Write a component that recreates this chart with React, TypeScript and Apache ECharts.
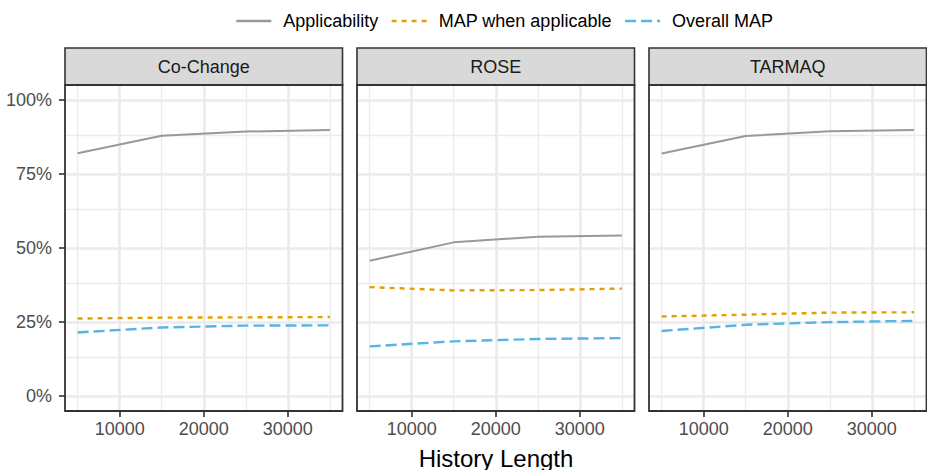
import React, { useEffect, useRef } from "react";
import * as echarts from "echarts";

const historyLengths = [5000, 15000, 25000, 35000];
const panelNames = ["Co-Change", "ROSE", "TARMAQ"];
const seriesNames = ["Applicability", "MAP when applicable", "Overall MAP"];

const coChangeApplicability = [0.82, 0.879, 0.893, 0.898];
const coChangeMapWhenApplicable = [0.262, 0.265, 0.266, 0.267];
const coChangeOverallMap = [0.215, 0.232, 0.238, 0.239];

const roseApplicability = [0.457, 0.519, 0.538, 0.542];
const roseMapWhenApplicable = [0.368, 0.357, 0.358, 0.363];
const roseOverallMap = [0.168, 0.185, 0.193, 0.196];

const tarmaqApplicability = [0.819, 0.878, 0.894, 0.898];
const tarmaqMapWhenApplicable = [0.269, 0.275, 0.282, 0.283];
const tarmaqOverallMap = [0.22, 0.241, 0.25, 0.254];

const xTicks = [10000, 20000, 30000];
const xMinorGrid = [5000, 15000, 25000, 35000];
const yTicks = [0, 0.25, 0.5, 0.75, 1];
const yMinorGrid = [0.125, 0.375, 0.625, 0.875];

const xTitle = "History Length";

const FONT = "'Liberation Sans', Arial, Helvetica, sans-serif";
const PANEL_LEFTS = [65, 357, 649];
const PANEL_W = 277.5;
const PANEL_TOP = 85;
const PANEL_H = 326;
const STRIP_TOP = 48;
const LINE_COLORS = ["#999999", "#E69F00", "#56B4E9"];
const LINE_TYPES: any[] = ["solid", [5, 5], [11, 5]];
const LINE_WIDTHS = [2, 2.4, 2.4];

const panelData = [
  [coChangeApplicability, coChangeMapWhenApplicable, coChangeOverallMap],
  [roseApplicability, roseMapWhenApplicable, roseOverallMap],
  [tarmaqApplicability, tarmaqMapWhenApplicable, tarmaqOverallMap],
];

export default function App() {
  const ref = useRef<HTMLDivElement>(null);
  useEffect(() => {
    if (!ref.current) return;
    const chart = echarts.init(ref.current, undefined, { renderer: "svg" });

    const grids = panelNames.map((_, i) => ({
      left: PANEL_LEFTS[i],
      top: PANEL_TOP,
      width: PANEL_W,
      height: PANEL_H,
      containLabel: false,
      outerBoundsMode: "none",
      show: false,
    }));

    const xAxes = panelNames.map((_, i) => ({
      type: "value",
      gridIndex: i,
      min: 3500,
      max: 36500,
      axisLine: { show: false, onZero: false },
      axisTick: {
        show: true,
        length: 6,
        customValues: xTicks,
        lineStyle: { color: "#333333", width: 1.6 },
      },
      axisLabel: {
        customValues: xTicks,
        margin: 9,
        color: "#4D4D4D",
        fontSize: 18,
        fontFamily: FONT,
        formatter: (v: number) => String(Math.round(v)),
      },
      splitLine: { show: false },
    }));

    const yAxes = panelNames.map((_, i) => ({
      type: "value",
      gridIndex: i,
      min: -0.05,
      max: 1.05,
      axisLine: { show: false, onZero: false },
      axisTick: {
        show: i === 0,
        length: 6,
        customValues: yTicks,
        lineStyle: { color: "#333333", width: 1.6 },
      },
      axisLabel: {
        show: i === 0,
        customValues: yTicks,
        margin: 13,
        color: "#4D4D4D",
        fontSize: 18,
        fontFamily: FONT,
        formatter: (v: number) => Math.round(v * 100) + "%",
      },
      splitLine: { show: false },
    }));

    const series: any[] = [];
    panelNames.forEach((_, i) => {
      const major = { color: "#EBEBEB", width: 2.7, type: "solid" };
      const minor = { color: "#EBEBEB", width: 1.3, type: "solid" };
      series.push({
        type: "line",
        name: "grid" + i,
        xAxisIndex: i,
        yAxisIndex: i,
        data: [],
        silent: true,
        z: 1,
        markLine: {
          silent: true,
          symbol: "none",
          z: 1,
          animation: false,
          label: { show: false },
          emphasis: { disabled: true },
          data: [
            ...yMinorGrid.map((v) => ({ yAxis: v, lineStyle: minor })),
            ...xMinorGrid.map((v) => ({ xAxis: v, lineStyle: minor })),
            ...yTicks.map((v) => ({ yAxis: v, lineStyle: major })),
            ...xTicks.map((v) => ({ xAxis: v, lineStyle: major })),
          ],
        },
      });
      panelData[i].forEach((vals, k) => {
        series.push({
          type: "line",
          name: seriesNames[k],
          xAxisIndex: i,
          yAxisIndex: i,
          data: historyLengths.map((x, j) => [x, vals[j]]),
          symbol: "none",
          showSymbol: false,
          silent: true,
          z: 3,
          lineStyle: {
            color: LINE_COLORS[k],
            width: LINE_WIDTHS[k],
            type: LINE_TYPES[k],
            cap: "butt",
          },
          itemStyle: { color: LINE_COLORS[k] },
        });
      });
    });

    const graphic: any[] = [];
    panelNames.forEach((name, i) => {
      graphic.push({
        type: "rect",
        z: 10,
        shape: { x: PANEL_LEFTS[i], y: STRIP_TOP, width: PANEL_W, height: PANEL_TOP - STRIP_TOP },
        style: { fill: "#D9D9D9", stroke: "#333333", lineWidth: 1.6 },
      });
      graphic.push({
        type: "text",
        z: 11,
        x: PANEL_LEFTS[i] + PANEL_W / 2,
        y: (STRIP_TOP + PANEL_TOP) / 2,
        style: {
          text: name,
          fontSize: 18,
          fontFamily: FONT,
          fill: "#1A1A1A",
          align: "center",
          verticalAlign: "middle",
        },
      });
      graphic.push({
        type: "rect",
        z: 10,
        shape: { x: PANEL_LEFTS[i], y: PANEL_TOP, width: PANEL_W, height: PANEL_H },
        style: { fill: "none", stroke: "#333333", lineWidth: 1.8 },
      });
    });
    graphic.push({
      type: "text",
      z: 11,
      x: 496,
      y: 458,
      style: {
        text: xTitle,
        fontSize: 24,
        fontFamily: FONT,
        fill: "#000000",
        align: "center",
        verticalAlign: "middle",
      },
    });

    chart.setOption({
      animation: false,
      backgroundColor: "#FFFFFF",
      legend: {
        data: seriesNames,
        left: 235,
        top: 12,
        padding: 0,
        itemWidth: 35,
        itemHeight: 14,
        itemGap: 12,
        selectedMode: false,
        itemStyle: { opacity: 0, borderWidth: 0 },
        lineStyle: { width: 2.6 },
        textStyle: { fontSize: 18, color: "#000000", fontFamily: FONT, padding: [0, 0, 0, 7] },
      },
      grid: grids,
      xAxis: xAxes,
      yAxis: yAxes,
      series,
      graphic,
    });
    return () => chart.dispose();
  }, []);
  return (
    <div
      ref={ref}
      style={{ position: "fixed", left: 0, top: 0, width: 927, height: 470 }}
    />
  );
}
